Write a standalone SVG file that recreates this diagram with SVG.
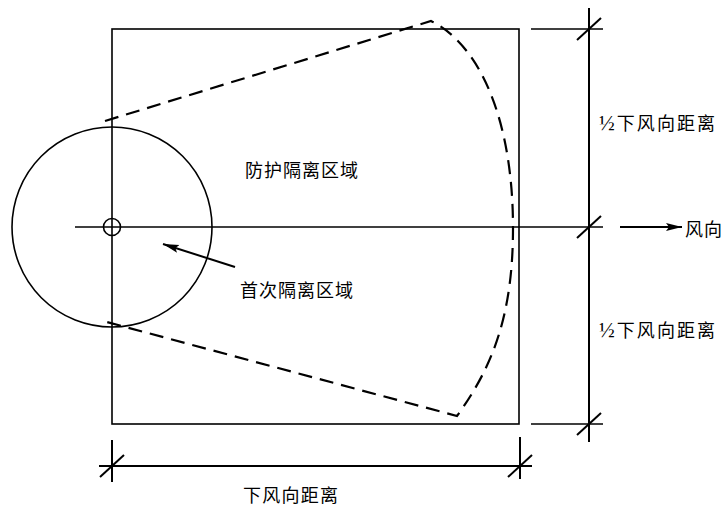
<svg xmlns="http://www.w3.org/2000/svg" width="726" height="508" viewBox="0 0 726 508">
<style>
.ln{fill:none;stroke:#000;stroke-width:1.6}
.dim{fill:none;stroke:#000;stroke-width:2}
.dash{fill:none;stroke:#000;stroke-width:2.2;stroke-dasharray:14 8}
.t{font-family:"Noto Sans CJK SC","Liberation Sans",sans-serif;font-size:18px;fill:#000}
.half{font-family:"Liberation Serif","Noto Sans CJK SC",serif;font-size:21px}
</style>
<defs>
<marker id="ah" markerUnits="userSpaceOnUse" markerWidth="18" markerHeight="10" refX="16" refY="4" orient="auto">
<path d="M0,0 L16,4 L0,8 L3,4 Z" fill="#000"/>
</marker>
</defs>
<rect width="726" height="508" fill="#fff"/>
<g id="zone-rect">
<rect class="ln" x="112" y="29" width="407" height="395"/>
</g>
<g id="initial-zone">
<circle class="ln" cx="112" cy="227" r="100"/>
<circle class="ln" cx="112" cy="227" r="8.5"/>
</g>
<g id="protect-zone">
<path class="dash" d="M105,121 L431,21 C480,45 513,120 513,228 C513,320 490,370 457,416 L103,321"/>
</g>
<g id="connectors">
<line class="ln" x1="75" y1="227" x2="603" y2="227"/>
<line class="dim" x1="620" y1="227" x2="682" y2="227" marker-end="url(#ah)"/>
<line class="dim" x1="235" y1="267" x2="163" y2="244" marker-end="url(#ah)"/>
<line class="dim" x1="589" y1="8" x2="589" y2="442"/>
<line class="ln" x1="531" y1="29" x2="603" y2="29"/>
<line class="ln" x1="531" y1="424" x2="603" y2="424"/>
<line class="dim" x1="577" y1="40" x2="601" y2="18"/>
<line class="dim" x1="577" y1="238" x2="601" y2="216"/>
<line class="dim" x1="577" y1="435" x2="601" y2="413"/>
<line class="dim" x1="99" y1="466" x2="532" y2="466"/>
<line class="dim" x1="112" y1="440" x2="112" y2="482"/>
<line class="dim" x1="520" y1="437" x2="520" y2="479"/>
<line class="dim" x1="100" y1="477" x2="124" y2="455"/>
<line class="dim" x1="508" y1="477" x2="532" y2="455"/>
</g>
<g id="labels">
<text class="t" x="245" y="177" textLength="113" lengthAdjust="spacing">防护隔离区域</text>
<text class="t" x="240" y="297" textLength="113" lengthAdjust="spacing">首次隔离区域</text>
<text class="t" x="599" y="130" textLength="116" lengthAdjust="spacing"><tspan class="half">½</tspan>下风向距离</text>
<text class="t" x="599" y="337" textLength="116" lengthAdjust="spacing"><tspan class="half">½</tspan>下风向距离</text>
<text class="t" x="243" y="502" textLength="95" lengthAdjust="spacing">下风向距离</text>
<text class="t" x="685" y="236" textLength="37" lengthAdjust="spacing">风向</text>
</g>
</svg>
